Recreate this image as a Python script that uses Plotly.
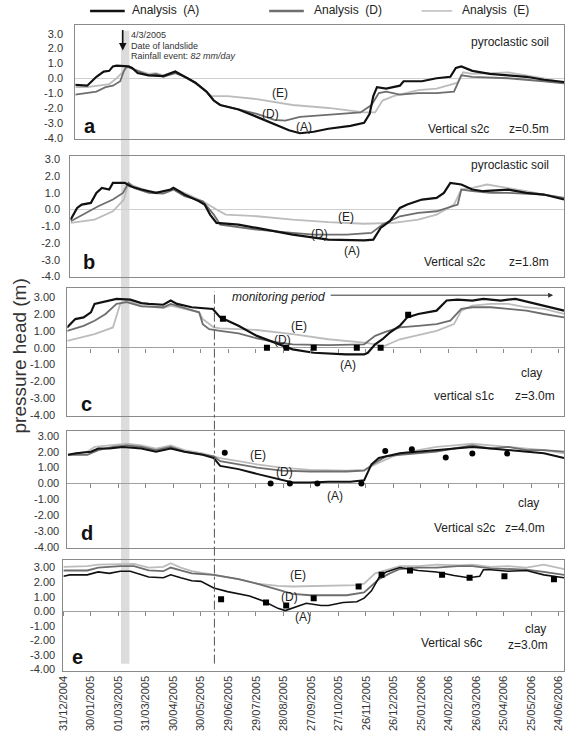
import pandas as pd
import plotly.graph_objects as go

# ---------------- DATA (x = days after 31/12/2004, y = pressure head m) ----------------
ORIGIN = "2004-12-31"

a_A_days = [13, 26, 36, 44, 50, 54, 58, 66, 71, 75, 81, 93, 109, 122, 136, 144, 156, 164, 171, 191, 211, 230, 246, 258, 273, 289, 313, 328, 334, 338, 342, 352, 367, 371, 391, 407, 422, 428, 434, 446, 465, 485, 505, 524, 546]
a_A_vals = [-0.45, -0.5, 0.1, 0.45, 0.5, 0.8, 0.85, 0.8, 0.8, 0.7, 0.35, 0.2, 0.15, 0.45, 0.0, -0.3, -0.9, -1.5, -1.8, -2.1, -2.6, -3.1, -3.5, -3.7, -3.6, -3.4, -3.2, -3.0, -2.4, -1.2, -0.6, -0.7, -0.5, -0.2, -0.2, 0.0, 0.1, 0.7, 0.8, 0.5, 0.3, 0.2, 0.1, -0.1, -0.25]
a_D_days = [13, 26, 36, 46, 54, 62, 66, 69, 77, 93, 101, 109, 122, 136, 144, 156, 164, 171, 191, 211, 230, 242, 258, 281, 305, 324, 336, 344, 352, 367, 387, 407, 426, 434, 446, 485, 524, 546]
a_D_vals = [-1.1, -1.0, -0.9, -0.6, -0.5, -0.2, 0.5, 0.8, 0.6, 0.2, 0.3, 0.1, 0.35, 0.0, -0.3, -0.9, -1.5, -1.8, -2.1, -2.4, -2.8, -2.85, -2.6, -2.5, -2.4, -2.3, -1.8, -1.0, -0.9, -1.1, -1.0, -1.0, -0.9, 0.2, 0.1, 0.0, -0.2, -0.35]
a_E_days = [13, 26, 50, 58, 66, 71, 77, 93, 101, 109, 122, 136, 156, 162, 179, 211, 250, 289, 328, 340, 348, 360, 387, 407, 430, 436, 446, 485, 524, 546]
a_E_vals = [-0.6, -0.6, -0.4, 0.0, 0.5, 0.8, 0.6, 0.3, 0.35, 0.2, 0.45, 0.0, -0.9, -1.2, -1.2, -1.4, -1.8, -2.0, -2.3, -2.3, -1.5, -1.2, -0.8, -0.7, -0.3, 0.4, 0.3, 0.4, 0.0, -0.3]

b_A_days = [8, 15, 20, 30, 36, 42, 50, 54, 67, 73, 85, 101, 117, 120, 132, 148, 154, 160, 167, 191, 211, 250, 289, 328, 338, 346, 356, 367, 375, 391, 407, 415, 422, 434, 446, 458, 485, 505, 524, 546]
b_A_vals = [-0.6, 0.1, 0.3, 0.4, 1.0, 1.3, 1.2, 1.6, 1.6, 1.4, 1.2, 1.0, 1.2, 1.3, 0.9, 0.5, 0.3, -0.3, -0.8, -0.9, -1.1, -1.5, -1.8, -1.85, -1.8, -1.1, -0.7, 0.1, 0.3, 0.6, 0.7, 1.0, 1.6, 1.5, 1.2, 1.1, 1.2, 1.0, 0.9, 0.6]
b_D_days = [8, 22, 38, 54, 65, 71, 77, 93, 109, 120, 132, 152, 164, 171, 211, 250, 273, 309, 336, 348, 367, 387, 407, 430, 434, 446, 466, 485, 524, 546]
b_D_vals = [-0.7, -0.3, 0.2, 0.6, 1.0, 1.6, 1.3, 1.0, 0.95, 1.2, 0.8, 0.5, -0.3, -0.9, -1.2, -1.4, -1.5, -1.5, -1.4, -0.9, -0.4, -0.2, -0.1, 0.3, 1.2, 1.1, 1.0, 1.0, 0.9, 0.7]
b_E_days = [8, 34, 54, 66, 71, 77, 93, 109, 120, 132, 152, 167, 177, 211, 250, 289, 328, 360, 387, 407, 426, 434, 446, 462, 485, 505, 524, 546]
b_E_vals = [-0.8, -0.6, -0.1, 0.6, 1.6, 1.4, 1.1, 1.0, 1.3, 1.0, 0.5, 0.0, -0.3, -0.4, -0.6, -0.75, -0.85, -0.8, -0.6, -0.3, 0.3, 1.2, 1.3, 1.5, 1.3, 1.1, 0.9, 0.7]

c_A_days = [4, 13, 22, 30, 34, 42, 50, 58, 73, 85, 93, 109, 117, 124, 140, 152, 163, 171, 191, 211, 230, 250, 273, 289, 308, 328, 332, 340, 348, 356, 367, 375, 387, 407, 418, 430, 446, 458, 477, 493, 505, 524, 546]
c_A_vals = [1.2, 1.7, 1.8, 2.1, 2.6, 2.7, 2.8, 2.9, 2.85, 2.65, 2.6, 2.55, 2.8, 2.6, 2.4, 2.35, 2.3, 1.8, 1.3, 0.7, 0.3, -0.1, -0.3, -0.35, -0.4, -0.4, -0.3, 0.2, 0.5, 0.9, 1.3, 1.8, 2.0, 2.2, 2.8, 2.85, 2.8, 2.9, 2.8, 2.9, 2.75, 2.5, 2.2]
c_D_days = [4, 22, 34, 46, 58, 69, 85, 109, 117, 132, 148, 152, 159, 171, 191, 211, 230, 250, 289, 328, 340, 352, 367, 387, 407, 422, 434, 446, 466, 485, 505, 524, 546]
c_D_vals = [1.0, 1.3, 1.6, 2.0, 2.6, 2.7, 2.45, 2.4, 2.6, 2.35, 2.1, 1.4, 1.1, 1.0, 0.85, 0.55, 0.35, 0.2, 0.15, 0.2, 0.7, 0.95, 1.2, 1.3, 1.4, 1.6, 2.3, 2.4, 2.4, 2.3, 2.2, 2.0, 1.8]
c_E_days = [4, 34, 54, 62, 69, 85, 109, 117, 132, 148, 152, 164, 171, 211, 250, 289, 328, 340, 348, 367, 407, 426, 434, 446, 466, 485, 505, 524, 546]
c_E_vals = [0.4, 0.8, 1.2, 2.6, 2.8, 2.5, 2.35, 2.5, 2.3, 2.1, 1.7, 1.2, 1.15, 1.05, 0.8, 0.5, 0.3, 0.2, 0.05, 0.5, 1.0, 1.4, 2.2, 2.5, 2.6, 2.6, 2.4, 2.3, 2.0]
c_obs_days = [174, 222, 243, 273, 320, 346, 376]
c_obs_vals = [1.72, 0.0, 0.0, 0.0, 0.0, 0.0, 1.96]

d_A_days = [5, 14, 30, 38, 50, 65, 85, 101, 117, 132, 152, 164, 171, 191, 211, 234, 250, 269, 289, 313, 328, 336, 344, 367, 387, 407, 426, 446, 466, 485, 505, 524, 546]
d_A_vals = [1.8, 1.9, 2.0, 2.2, 2.2, 2.3, 2.2, 2.0, 2.2, 2.0, 1.8, 1.6, 1.1, 0.9, 0.6, 0.3, 0.05, 0.05, 0.1, 0.1, 0.2, 1.2, 1.6, 1.9, 2.0, 2.1, 2.2, 2.3, 2.2, 2.1, 2.0, 1.9, 1.6]
d_D_days = [5, 26, 38, 54, 69, 85, 101, 117, 132, 152, 164, 171, 191, 211, 238, 269, 309, 328, 340, 352, 367, 387, 407, 426, 446, 466, 485, 505, 524, 546]
d_D_vals = [1.8, 1.8, 2.1, 2.3, 2.4, 2.3, 2.1, 2.3, 2.0, 1.8, 1.7, 1.4, 1.2, 1.0, 0.8, 0.75, 0.75, 0.8, 1.3, 1.7, 1.8, 1.9, 2.0, 2.2, 2.4, 2.2, 2.3, 2.1, 2.1, 2.0]
d_E_days = [5, 26, 34, 54, 69, 85, 101, 117, 132, 152, 164, 171, 191, 211, 238, 269, 309, 328, 340, 352, 367, 387, 407, 426, 446, 466, 485, 505, 524, 546]
d_E_vals = [1.8, 2.0, 2.3, 2.4, 2.5, 2.4, 2.2, 2.4, 2.1, 1.9, 1.7, 1.6, 1.4, 1.2, 1.0, 0.85, 0.8, 0.85, 1.2, 1.5, 1.9, 2.1, 2.3, 2.4, 2.5, 2.4, 2.3, 2.2, 2.1, 1.9]
d_obs_days = [176, 226, 247, 277, 325, 351, 380, 417, 446, 484]
d_obs_vals = [1.94, 0.0, 0.0, 0.0, 0.0, 2.04, 2.15, 1.63, 1.88, 1.88]

e_A_days = [0, 7, 26, 38, 50, 62, 73, 85, 93, 109, 117, 128, 140, 150, 164, 179, 203, 218, 234, 242, 254, 265, 281, 289, 305, 320, 328, 336, 344, 352, 367, 379, 387, 407, 426, 442, 454, 458, 466, 485, 505, 524, 546]
e_A_vals = [2.4, 2.5, 2.5, 2.7, 2.6, 2.75, 2.75, 2.5, 2.35, 2.3, 2.5, 2.3, 2.1, 2.05, 1.6, 1.35, 1.05, 0.7, 0.2, 0.05, 0.3, 0.55, 0.4, 0.4, 0.6, 0.65, 0.9, 1.4, 2.3, 2.7, 3.0, 2.9, 2.8, 2.7, 2.45, 2.3, 2.4, 2.85, 2.85, 2.75, 2.8, 2.5, 2.3]
e_D_days = [0, 26, 38, 62, 77, 93, 109, 117, 128, 140, 164, 191, 211, 234, 250, 269, 309, 328, 344, 356, 367, 387, 407, 430, 446, 466, 485, 505, 524, 546]
e_D_vals = [2.8, 2.8, 3.0, 3.1, 3.1, 2.8, 2.75, 3.0, 2.8, 2.6, 2.5, 2.2, 1.9, 1.5, 1.2, 1.1, 1.1, 1.3, 2.2, 2.6, 2.9, 3.0, 3.0, 3.1, 3.1, 2.95, 2.9, 2.85, 2.7, 2.5]
e_E_days = [0, 26, 38, 62, 77, 93, 109, 117, 128, 140, 164, 191, 211, 234, 250, 289, 320, 328, 340, 356, 367, 387, 407, 430, 446, 466, 485, 505, 524, 546]
e_E_vals = [3.05, 3.1, 3.2, 3.2, 3.25, 3.0, 3.05, 3.3, 3.0, 2.75, 2.5, 2.2, 1.9, 1.75, 1.7, 1.75, 1.8, 1.9, 2.6, 2.9, 3.1, 3.1, 3.2, 3.15, 3.2, 3.05, 3.1, 3.0, 3.2, 2.9]
e_obs_days = [172, 221, 243, 273, 322, 347, 378, 413, 443, 481, 535]
e_obs_vals = [0.82, 0.6, 0.4, 0.9, 1.7, 2.5, 2.8, 2.5, 2.3, 2.4, 2.2]

y_tick_vals = [3, 2, 1, 0, -1, -2, -3, -4]
y_tick_text_1 = ["3.0", "2.0", "1.0", "0.0", "-1.0", "-2.0", "-3.0", "-4.0"]
y_tick_text_2 = ["3.00", "2.00", "1.00", "0.00", "-1.00", "-2.00", "-3.00", "-4.00"]
series_names = ["Analysis  (A)", "Analysis  (D)", "Analysis  (E)"]

landslide_day = [62.8, 72.0]     # grey band around 4/3/2005
monitoring_start_day = 164.7     # start of monitoring period
x_end_day = 546

# ---------------- LAYOUT HELPERS ----------------
W, H = 567, 735
FONT = "Liberation Sans, Arial, sans-serif"
X0_PX, X1_PX = 58, 564           # pixel of day 0 and of x_end_day (panel e)
origin = pd.Timestamp(ORIGIN)


def to_date(d):
    return (origin + pd.Timedelta(days=float(d))).strftime("%Y-%m-%d %H:%M:%S")


def dates(days):
    return [to_date(d) for d in days]


def day_at_px(px):
    return (px - X0_PX) / (X1_PX - X0_PX) * x_end_day


def px_x(p):
    return p / W


def px_y(p):
    return 1 - p / H


C_A, C_D, C_E = "#111111", "#6e6e6e", "#bcbcbc"
FRAME = "#8a8a8a"

panels = [
    dict(left=70, top=23, bottom=138, p3=32, pm4=137, text=y_tick_text_1, tl=9, zc="#cfcfcf",
         A=(a_A_days, a_A_vals), D=(a_D_days, a_D_vals), E=(a_E_days, a_E_vals), obs=None, wA=2.2),
    dict(left=65, top=155, bottom=278, p3=159, pm4=277, text=y_tick_text_1, tl=7, zc="#cfcfcf",
         A=(b_A_days, b_A_vals), D=(b_D_days, b_D_vals), E=(b_E_days, b_E_vals), obs=None, wA=2.2),
    dict(left=62, top=289, bottom=418, p3=298, pm4=417, text=y_tick_text_2, tl=9, zc="#a0a0a0",
         A=(c_A_days, c_A_vals), D=(c_D_days, c_D_vals), E=(c_E_days, c_E_vals),
         obs=(c_obs_days, c_obs_vals, "square"), wA=2.2),
    dict(left=62, top=433, bottom=551, p3=438, pm4=550, text=y_tick_text_2, tl=5, zc="#a0a0a0",
         A=(d_A_days, d_A_vals), D=(d_D_days, d_D_vals), E=(d_E_days, d_E_vals),
         obs=(d_obs_days, d_obs_vals, "circle"), wA=2.0),
    dict(left=58, top=563, bottom=675, p3=571, pm4=674, text=y_tick_text_2, tl=5, zc="#a0a0a0",
         A=(e_A_days, e_A_vals), D=(e_D_days, e_D_vals), E=(e_E_days, e_E_vals),
         obs=(e_obs_days, e_obs_vals, "square"), wA=1.6),
]

fig = go.Figure()
layout = dict(
    width=W, height=H, margin=dict(l=0, r=0, t=0, b=0),
    paper_bgcolor="white", plot_bgcolor="rgba(0,0,0,0)",
    showlegend=False, font=dict(family=FONT, size=11, color="#333333"),
)

DTICK = 30 * 86400000

for i, p in enumerate(panels, start=1):
    xs = "x" if i == 1 else f"x{i}"
    ys = "y" if i == 1 else f"y{i}"
    xk = "xaxis" if i == 1 else f"xaxis{i}"
    yk = "yaxis" if i == 1 else f"yaxis{i}"
    for key, col, w in (("E", C_E, 1.8), ("D", C_D, 1.8), ("A", C_A, p["wA"])):
        dd, vv = p[key]
        fig.add_trace(go.Scatter(x=dates(dd), y=vv, mode="lines", xaxis=xs, yaxis=ys,
                                 line=dict(color=col, width=w), name=key, hoverinfo="skip"))
    if p["obs"]:
        od, ov, sym = p["obs"]
        fig.add_trace(go.Scatter(x=dates(od), y=ov, mode="markers", xaxis=xs, yaxis=ys,
                                 marker=dict(symbol=sym, size=6, color="#000000"), hoverinfo="skip"))
    # y-range from tick pixel anchors
    ppu = (p["pm4"] - p["p3"]) / 7.0
    ytop = 3 + (p["p3"] - p["top"]) / ppu
    ybot = -4 - (p["bottom"] - p["pm4"]) / ppu
    xr = [to_date(day_at_px(p["left"])), to_date(x_end_day)]
    xd = [px_x(p["left"]), px_x(X1_PX)]
    yd = [px_y(p["bottom"]), px_y(p["top"])]
    p["xr"], p["yr"], p["yd"], p["xd"] = xr, [ybot, ytop], yd, xd
    xa = dict(domain=xd, range=xr, type="date", anchor=ys, showline=True, linecolor=FRAME,
              linewidth=1, mirror=True, showgrid=False, zeroline=False, ticks="",
              showticklabels=False)
    if i == 5:
        xa.update(showticklabels=True, tick0=ORIGIN, dtick=DTICK, tickformat="%d/%m/%Y",
                  tickangle=-90, tickfont=dict(size=11, color="#333333"), ticks="")
    layout[xk] = xa
    layout[yk] = dict(domain=yd, range=[ybot, ytop], anchor=xs, showline=True, linecolor=FRAME,
                      linewidth=1, mirror=True, showgrid=False, zeroline=True,
                      zerolinecolor=p["zc"], zerolinewidth=1, tickvals=y_tick_vals,
                      ticktext=p["text"], ticks="outside", ticklen=p["tl"],
                      tickcolor="rgba(0,0,0,0)", tickfont=dict(size=11, color="#333333"))

# tick marks on the zero line of the clay panels (c, d, e)
for j, pi in enumerate([3, 4, 5], start=6):
    p = panels[pi - 1]
    ybot, ytop = p["yr"]
    pos = p["yd"][0] + (0 - ybot) / (ytop - ybot) * (p["yd"][1] - p["yd"][0])
    layout[f"xaxis{j}"] = dict(overlaying=f"x{pi}", anchor="free", position=pos, domain=p["xd"],
                               range=p["xr"], type="date", tick0=ORIGIN, dtick=DTICK,
                               ticks="outside", ticklen=4, tickcolor="#8a8a8a", tickwidth=1,
                               showticklabels=False, showline=False, showgrid=False, zeroline=False)
    fig.add_trace(go.Scatter(x=[], y=[], xaxis=f"x{j}", yaxis=f"y{pi}", mode="lines",
                             hoverinfo="skip"))

fig.update_layout(**layout)

# shapes: landslide band and monitoring start line
fig.add_shape(type="rect", xref="x5", yref="paper", x0=to_date(landslide_day[0]),
              x1=to_date(landslide_day[1]), y0=px_y(668), y1=px_y(29),
              fillcolor="#dcdcdc", line=dict(width=0), layer="below")
fig.add_shape(type="line", xref="x5", yref="paper", x0=to_date(monitoring_start_day),
              x1=to_date(monitoring_start_day), y0=px_y(668), y1=px_y(292),
              line=dict(color="#555555", width=1, dash="dashdot"))

# legend (manual)
legend_items = [(85, 120, 125, C_A, 2.5), (266, 301, 309, C_D, 2.5), (420, 451, 459, C_E, 1.5)]
for (l0, l1, tx, col, w), name in zip(legend_items, series_names):
    fig.add_shape(type="line", xref="paper", yref="paper", x0=px_x(l0), x1=px_x(l1),
                  y0=px_y(9), y1=px_y(9), line=dict(color=col, width=w))
    fig.add_annotation(xref="paper", yref="paper", x=px_x(tx), y=px_y(8), text=name,
                       showarrow=False, xanchor="left", yanchor="middle",
                       font=dict(size=12, color="#222222"))


def ann(text, x, y, anchor="center", size=12, color="#222222", **kw):
    fig.add_annotation(xref="paper", yref="paper", x=px_x(x), y=px_y(y), text=text,
                       showarrow=False, xanchor=anchor, yanchor="middle",
                       font=dict(size=size, color=color, family=FONT), **kw)


# panel a
ann("pyroclastic soil", 551, 40, "right")
ann("Vertical s2c", 490, 128, "right")
ann("z=0.5m", 551, 128, "right")
ann("(E)", 277, 92); ann("(D)", 267, 113); ann("(A)", 301, 126)
ann("<b>a</b>", 77, 125, "left", size=20, color="#111111")
ann("4/3/2005", 124, 33, "left", size=9, color="#333333")
ann("Date of landslide", 124, 44, "left", size=9, color="#333333")
ann("Rainfall event: <i>82 mm/day</i>", 124, 55, "left", size=9, color="#333333")
fig.add_annotation(xref="paper", yref="paper", x=px_x(118), y=px_y(49), ax=0, ay=-22,
                   text="", showarrow=True, arrowhead=2, arrowsize=1, arrowwidth=1.5,
                   arrowcolor="#111111")

# panel b
ann("pyroclastic soil", 551, 165, "right")
ann("Vertical s2c", 486, 262, "right")
ann("z=1.8m", 551, 262, "right")
ann("(E)", 344, 217); ann("(D)", 317, 234); ann("(A)", 350, 251)
ann("<b>b</b>", 76, 263, "left", size=20, color="#111111")

# panel c
ann("<i>monitoring period</i>", 226, 298, "left")
fig.add_annotation(xref="paper", yref="paper", x=px_x(553), y=px_y(296), ax=-224, ay=0,
                   text="", showarrow=True, arrowhead=2, arrowsize=1, arrowwidth=1,
                   arrowcolor="#333333")
ann("(E)", 296, 327); ann("(D)", 279, 341); ann("(A)", 346, 366)
ann("clay", 531, 375)
ann("vertical s1c", 463, 398)
ann("z=3.0m", 535, 398)
ann("<b>c</b>", 74, 406, "left", size=20, color="#111111")

# panel d
ann("(E)", 255, 457); ann("(D)", 281, 475); ann("(A)", 333, 499)
ann("clay", 528, 506)
ann("Vertical s2c", 463, 531)
ann("z=4.0m", 525, 531)
ann("<b>d</b>", 74, 536, "left", size=20, color="#111111")

# panel e
ann("(E)", 295, 579); ann("(D)", 287, 601); ann("(A)", 300, 621)
ann("clay", 535, 633)
ann("Vertical s6c", 450, 647)
ann("z=3.0m", 528, 649)
ann("<b>e</b>", 65, 661, "left", size=20, color="#111111")

# common y title
ann("pressure head (m)", 14, 357, size=19, color="#333333", textangle=-90)

# the page's default body margin would shift the fixed-size figure; remove it
fig.write_html("out.html",
               config={"displayModeBar": False, "staticPlot": True},
               post_script="document.body.style.margin='0px';document.body.style.overflow='hidden';")
